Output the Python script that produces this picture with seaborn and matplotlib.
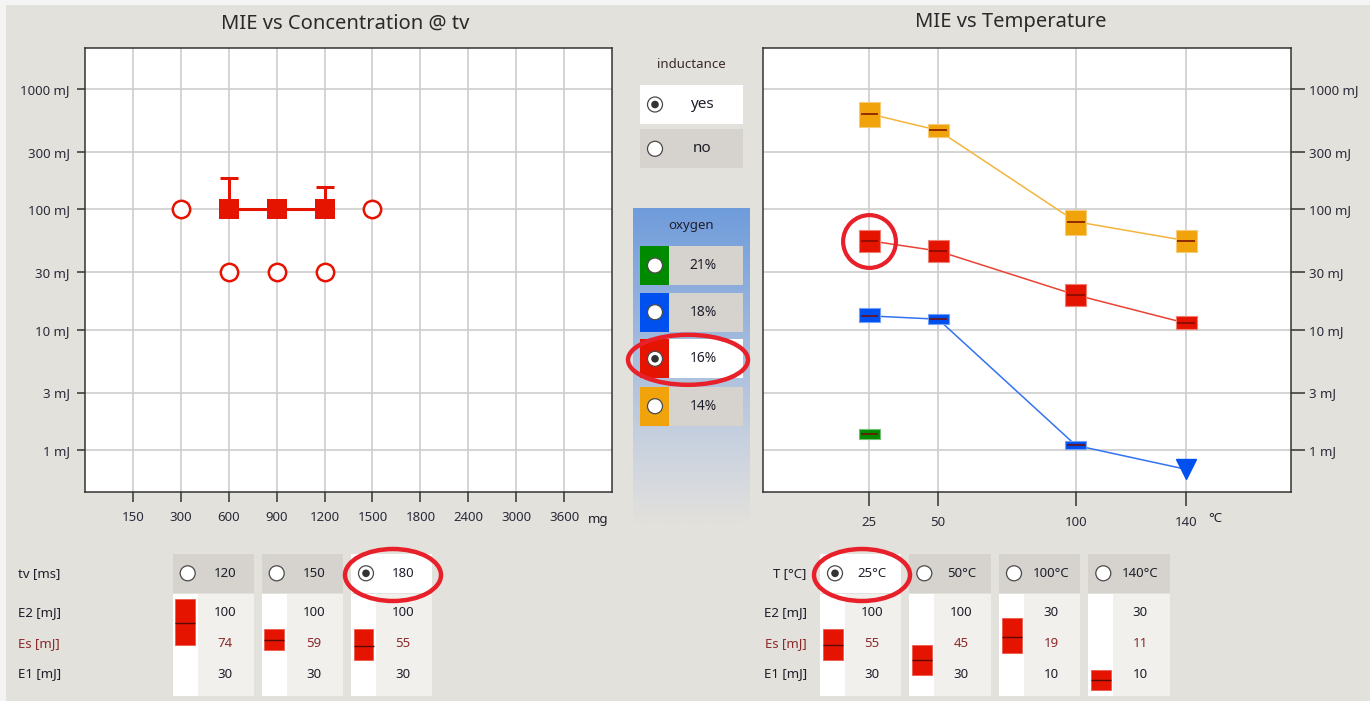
import numpy as np
import matplotlib
matplotlib.use('Agg')
import matplotlib.pyplot as plt
import seaborn as sns
from matplotlib.patches import Rectangle, Circle, Ellipse
from matplotlib.ticker import NullLocator
from matplotlib.colors import to_rgb

# ---------------- values ----------------
conc_labels = ['150', '300', '600', '900', '1200', '1500', '1800', '2400', '3000', '3600']
energy_ticks = [1, 3, 10, 30, 100, 300, 1000]

# MIE vs concentration @ tv
ign_conc = ['600', '900', '1200']
ign_energy = [100, 100, 100]
err_conc = ['600', '1200']
err_top = [182, 153]
noign_conc = ['300', '1500', '600', '900', '1200']
noign_energy = [100, 100, 30, 30, 30]

# MIE vs temperature, one series per oxygen level
o2_levels = ['21%', '18%', '16%', '14%']
o2_colors = ['#008a00', '#0050ef', '#e51400', '#f0a30a']
temps = [25, 50, 100, 140]
t_21 = [25]
es_21 = [1.36]
lo_21 = [1.23]
hi_21 = [1.49]
t_18 = [25, 50, 100, 140]
es_18 = [13.0, 12.2, 1.09, 0.69]
lo_18 = [11.5, 11.2, 1.01, np.nan]   # nan -> below range (triangle)
hi_18 = [15.2, 13.5, 1.19, np.nan]
t_16 = [25, 50, 100, 140]
es_16 = [54.8, 45.0, 19.4, 11.3]
lo_16 = [44.4, 36.6, 15.8, 10.1]
hi_16 = [66.7, 55.1, 24.0, 12.9]
t_14 = [25, 50, 100, 140]
es_14 = [621, 453, 78.9, 54.8]
lo_14 = [484, 399, 61.1, 44.4]
hi_14 = [775, 515, 99.3, 66.7]

# tables below the charts
tv_ms = ['120', '150', '180']
tv_e2 = [100, 100, 100]
tv_es = [74, 59, 55]
tv_e1 = [30, 30, 30]
tv_gauge_lo = [0.50, 0.45, 0.35]
tv_gauge_mid = [0.72, 0.55, 0.49]
tv_gauge_hi = [0.95, 0.655, 0.655]

t_labels = ['25°C', '50°C', '100°C', '140°C']
t_e2 = [100, 100, 30, 30]
t_es = [55, 45, 19, 11]
t_e1 = [30, 30, 10, 10]
t_gauge_lo = [0.35, 0.20, 0.42, 0.06]
t_gauge_mid = [0.50, 0.35, 0.58, 0.15]
t_gauge_hi = [0.655, 0.50, 0.77, 0.25]

sel_tv = '180'
sel_temp = 25
sel_temp_label = '25°C'
sel_o2 = '16%'
sel_inductance = 'yes'

# ---------------- style ----------------
BG = '#e3e1dc'
HEAD_BG = '#d6d3ce'
BODY_BG = '#f1f0ec'
TXT = '#1e1e2a'
ES_COL = '#8b2a2a'
RED = '#e51400'
ANN = '#e8202a'
GRID = '#cdcdcd'
FRAME = '#333333'

sns.set_style('white')
plt.rcParams['font.family'] = ['Noto Sans', 'DejaVu Sans']

W, H = 1370, 701
fig = plt.figure(figsize=(W / 100, H / 100), dpi=100)
fig.patch.set_facecolor('#f4f4f4')


def px_axes(x0, y0, x1, y1, **kw):
    return fig.add_axes([x0 / W, 1 - y1 / H, (x1 - x0) / W, (y1 - y0) / H], **kw)


def lighten(c, f=0.45):
    r = np.array(to_rgb(c))
    return tuple(r + (1 - r) * f)


# background / widget layer in pixel coordinates
ui = px_axes(0, 0, W, H)
ui.axis('off')
ui.add_patch(Rectangle((6, 5), W, H, fc=BG, ec='none'))


def radio(x, y, checked=False):
    ui.add_patch(Circle((x, y), 7.5, fc='white', ec='#4a4a4a', lw=0.9, zorder=5))
    if checked:
        ui.add_patch(Circle((x, y), 3.8, fc='#333333', ec='none', zorder=6))


# titles
ui.text(345, 24, 'MIE vs Concentration @ tv', fontsize=14.5, ha='center', va='center', color='#2a2a2a')
ui.text(1011, 22, 'MIE vs Temperature', fontsize=14.5, ha='center', va='center', color='#2a2a2a')
ui.text(598, 519, 'mg', fontsize=9.5, ha='center', va='center', color=TXT)
ui.text(1215, 519, '°C', fontsize=9.5, ha='center', va='center', color=TXT)

# inductance selector
ui.text(691, 65, 'inductance', fontsize=9.5, ha='center', va='center', color='#3a2a2a')
for y0, lab in zip([85, 129.3], ['yes', 'no']):
    sel = lab == sel_inductance
    ui.add_patch(Rectangle((640, y0), 102.7, 39, fc='white' if sel else HEAD_BG, ec='none'))
    radio(655, y0 + 19.5, sel)
    ui.text(701.7, y0 + 19.5, lab, fontsize=11, ha='center', va='center', color=TXT)

# oxygen selector with gradient panel
g = np.linspace(0, 1, 300)[:, None]
c_top = np.array(to_rgb('#6f9cdb'))
c_mid = np.array(to_rgb('#cfd5df'))
c_bot = np.array(to_rgb(BG))
grad = np.where(g < 0.8, c_top + (c_mid - c_top) * (g / 0.8),
                c_mid + (c_bot - c_mid) * ((g - 0.8) / 0.2))
ui.imshow(grad[:, None, :], extent=[633, 750, 525, 208], aspect='auto',
          interpolation='bilinear', zorder=1)
ui.text(691, 225, 'oxygen', fontsize=9.5, ha='center', va='center', color=TXT, zorder=3)
for y0, lab, col in zip([246, 292.7, 339.3, 386.7], o2_levels, o2_colors):
    sel = lab == sel_o2
    ui.add_patch(Rectangle((640, y0), 29.3, 39, fc=col, ec='none', zorder=3))
    ui.add_patch(Rectangle((669.3, y0), 73.4, 39, fc='white' if sel else HEAD_BG, ec='none', zorder=3))
    radio(655, y0 + 19.5, sel)
    ui.text(703, y0 + 19.5, lab, fontsize=10, ha='center', va='center', color=TXT, zorder=4)
    if sel:
        ui.add_patch(Ellipse((688, y0 + 20.5), 120, 50, fill=False, ec=ANN, lw=3.2, zorder=7))

# tables
ROW_Y = [612.7, 643.5, 674]
COL_W = 81.5


def draw_table(x0s, heads, e2, es, e1, g_lo, g_mid, g_hi, selected):
    for i, x0 in enumerate(x0s):
        sel = heads[i] == selected
        ui.add_patch(Rectangle((x0, 554), COL_W, 38.7, fc='white' if sel else HEAD_BG, ec='none'))
        ui.add_patch(Rectangle((x0, 594.3), COL_W, 101.4, fc=BODY_BG, ec='none'))
        ui.add_patch(Rectangle((x0, 594.3), 25, 101.4, fc='white', ec='none'))
        radio(x0 + 15, 573.3, sel)
        ui.text(x0 + 52, 573.3, heads[i], fontsize=9.5, ha='center', va='center', color=TXT)
        for y, v, c in zip(ROW_Y, [e2[i], es[i], e1[i]], [TXT, ES_COL, TXT]):
            ui.text(x0 + 52, y, str(v), fontsize=9.5, ha='center', va='center', color=c)
        if sel:
            ui.add_patch(Ellipse((x0 + 42, 575), 96, 52, fill=False, ec=ANN, lw=3.2, zorder=7))
        gx = px_axes(x0, 594.3, x0 + 25, 695.7)
        gx.axis('off')
        gx.bar(0, g_hi[i] - g_lo[i], bottom=g_lo[i], width=0.8, color=RED,
               edgecolor=lighten(RED, 0.3), lw=0.6)
        gx.hlines(g_mid[i], -0.4, 0.4, color='#5a0a00', lw=1)
        gx.set_xlim(-0.5, 0.5)
        gx.set_ylim(0, 1)


for y, lab, c in zip([573.3] + ROW_Y, ['tv [ms]', 'E2 [mJ]', 'Es [mJ]', 'E1 [mJ]'], [TXT, TXT, ES_COL, TXT]):
    ui.text(18, y, lab, fontsize=9.5, ha='left', va='center', color=c)
for y, lab, c in zip([573.3] + ROW_Y, ['T [°C]', 'E2 [mJ]', 'Es [mJ]', 'E1 [mJ]'], [TXT, TXT, ES_COL, TXT]):
    ui.text(806.7, y, lab, fontsize=9.5, ha='right', va='center', color=c)

draw_table([172.7, 261.7, 351], tv_ms, tv_e2, tv_es, tv_e1,
           tv_gauge_lo, tv_gauge_mid, tv_gauge_hi, sel_tv)
draw_table([820, 909.3, 999, 1088.3], t_labels, t_e2, t_es, t_e1,
           t_gauge_lo, t_gauge_mid, t_gauge_hi, sel_temp_label)

ui.set_xlim(0, W)
ui.set_ylim(H, 0)


# ---------------- the two charts ----------------
def style_axes(ax):
    ax.set_facecolor('white')
    ax.set_yscale('log')
    ax.set_ylim(0.447, 2190)
    ax.set_yticks(energy_ticks)
    ax.set_yticklabels([f'{v} mJ' for v in energy_ticks])
    ax.yaxis.set_minor_locator(NullLocator())
    ax.grid(True, color=GRID, lw=1.2)
    ax.set_axisbelow(True)
    for s in ax.spines.values():
        s.set_color(FRAME)
        s.set_linewidth(1.1)
    ax.tick_params(axis='both', which='major', direction='out', width=1.1, color=FRAME,
                   labelsize=9.5, labelcolor='#2a2a3a')
    ax.tick_params(axis='x', length=7, pad=7)
    ax.set_xlabel('')
    ax.set_ylabel('')


# left: MIE vs concentration (categorical x)
ax1 = px_axes(85, 48, 612, 492)
pos = {c: i for i, c in enumerate(conc_labels)}
style_axes(ax1)
ax1.tick_params(axis='y', length=6, pad=5, left=True)
ax1.tick_params(axis='x', bottom=True)

err_base = [ign_energy[ign_conc.index(c)] for c in err_conc]
ax1.errorbar([pos[c] for c in err_conc], err_base,
             yerr=[np.zeros(len(err_top)), np.array(err_top) - np.array(err_base)],
             fmt='none', ecolor=RED, elinewidth=2.2, capsize=6.5, capthick=2.2, zorder=3)
sns.lineplot(x=[pos[c] for c in ign_conc], y=ign_energy, ax=ax1, color=RED, lw=2.2,
             marker='s', markersize=14.4, markeredgewidth=0, zorder=4)
sns.lineplot(x=[pos[c] for c in noign_conc], y=noign_energy, ax=ax1, color=RED, ls='',
             marker='o', markersize=12.5, markerfacecolor='white', markeredgecolor=RED,
             markeredgewidth=1.8, zorder=4)
ax1.set_xticks(range(len(conc_labels)))
ax1.set_xticklabels(conc_labels)
ax1.set_xlim(-1, len(conc_labels))
ax1.set_ylim(0.447, 2190)
ax1.set_xlabel('')
ax1.set_ylabel('')

# right: MIE vs temperature
ax2 = px_axes(763, 48, 1291, 492)
style_axes(ax2)
ax2.yaxis.tick_right()
ax2.tick_params(axis='y', length=10, pad=3, right=True, left=False)
ax2.tick_params(axis='x', length=10, pad=7, bottom=True)

BAR_W = 7.6
series = [
    (o2_colors[0], t_21, es_21, lo_21, hi_21),
    (o2_colors[1], t_18, es_18, lo_18, hi_18),
    (o2_colors[2], t_16, es_16, lo_16, hi_16),
    (o2_colors[3], t_14, es_14, lo_14, hi_14),
]
for col, t, es, lo, hi in series:
    if len(t) > 1:
        sns.lineplot(x=t, y=es, ax=ax2, color=lighten(col, 0.2), lw=1.1, zorder=2)
    t = np.array(t, dtype=float)
    es = np.array(es, dtype=float)
    lo = np.array(lo, dtype=float)
    hi = np.array(hi, dtype=float)
    ok = ~np.isnan(lo)
    ax2.bar(t[ok], hi[ok] - lo[ok], bottom=lo[ok], width=BAR_W, color=col,
            edgecolor=lighten(col), lw=0.8, zorder=3)
    ax2.hlines(es[ok], t[ok] - BAR_W / 2 + 0.6, t[ok] + BAR_W / 2 - 0.6,
               color='#7a0a00', lw=1.1, zorder=4)
    if (~ok).any():
        ax2.plot(t[~ok], es[~ok], marker='v', ls='', ms=15, color=col, zorder=4)

# highlight ring around selected point
sel_idx = t_16.index(sel_temp)
ax2.plot([sel_temp], [es_16[sel_idx]], marker='o', ms=38, mfc='none', mec=ANN, mew=3,
         ls='', zorder=6, clip_on=False)

ax2.set_xticks(temps)
ax2.set_xticklabels([str(t) for t in temps])
ax2.set_xlim(-13.6, 178.1)
ax2.set_ylim(0.447, 2190)
ax2.set_xlabel('')
ax2.set_ylabel('')

fig.savefig('out.png', dpi=100, facecolor=fig.get_facecolor())
